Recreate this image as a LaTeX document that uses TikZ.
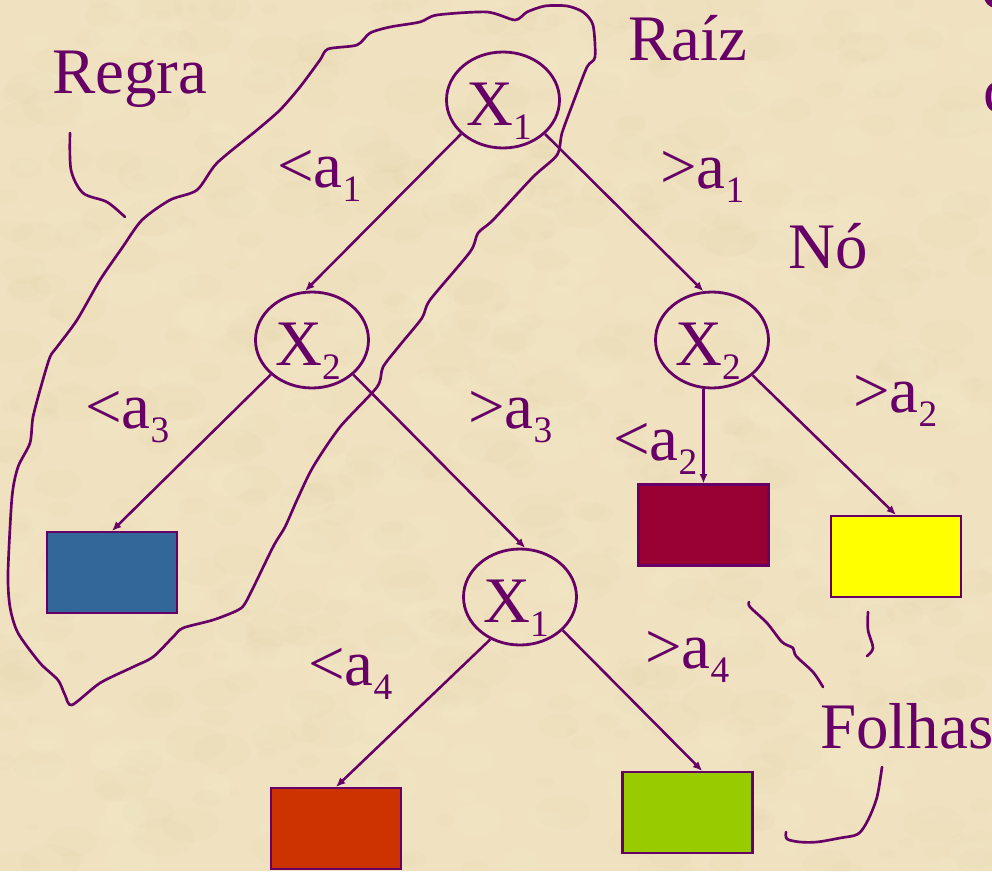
\documentclass[tikz,border=0pt]{standalone}
\usepackage{fontspec}
\setmainfont{Liberation Serif}
\newfontfamily\slidefont{Liberation Serif}
\usetikzlibrary{shapes.geometric,arrows.meta}

\definecolor{ink}{RGB}{102,0,102}
\definecolor{paper}{RGB}{240,226,192}
\definecolor{paperdark}{RGB}{205,175,125}
\definecolor{paperlight}{RGB}{252,242,218}
\definecolor{leafblue}{RGB}{51,102,153}
\definecolor{leafwine}{RGB}{153,0,51}
\definecolor{leafyellow}{RGB}{255,255,0}
\definecolor{leafred}{RGB}{204,51,0}
\definecolor{leafgreen}{RGB}{153,204,0}

% subscript digit set below the baseline
\newcommand\idx[1]{\raisebox{-11pt}{\fontsize{28pt}{30pt}\selectfont #1}}

\tikzset{
  txt/.style={text=ink, inner sep=0pt, anchor=base west,
              font=\slidefont\fontsize{48.7pt}{58pt}\selectfont},
  testnode/.style={ellipse, draw=ink, line width=2.1pt, inner sep=0pt,
                   minimum width=84.75pt, minimum height=72pt},
  testlab/.style={text=ink, inner sep=0pt, anchor=base,
                  font=\slidefont\fontsize{48.7pt}{58pt}\selectfont},
  leaf/.style={rectangle, draw=ink, line width=1.6pt, inner sep=0pt,
               minimum width=97.5pt, minimum height=60.75pt},
  arr/.style={draw=ink, line width=1.9pt,
              -{Latex[length=7pt,width=6pt]}},
  hand/.style={draw=ink, line width=2pt, line cap=round, line join=round},
}

\begin{document}
\begin{tikzpicture}[x=0.75pt, y=-0.75pt]
\useasboundingbox (0,0) rectangle (992,871);
\clip (0,0) rectangle (992,871);

% parchment background with soft mottling
\fill[paper] (0,0) rectangle (992,871);
\pgfmathsetseed{11}
\foreach \i in {1,...,500}{
  \pgfmathsetmacro\px{rnd*992}
  \pgfmathsetmacro\py{rnd*871}
  \pgfmathsetmacro\rr{6+rnd*26}
  \fill[paperdark, opacity=0.035] (\px,\py) ellipse [x radius=\rr, y radius=0.6*\rr];
}
\foreach \i in {1,...,400}{
  \pgfmathsetmacro\px{rnd*992}
  \pgfmathsetmacro\py{rnd*871}
  \pgfmathsetmacro\rr{5+rnd*22}
  \fill[paperlight, opacity=0.07] (\px,\py) ellipse [x radius=\rr, y radius=0.7*\rr];
}

% edge of the neighbouring text block
\fill[ink] (996,-4) circle [radius=12];
\node[txt] (cut) at (983,112) {c};

% test nodes
\node[testnode] (x1a) at (503,100) {};
\node[testnode] (x2a) at (312,340) {};
\node[testnode] (x2b) at (712,340) {};
\node[testnode] (x1c) at (520,597) {};
\node[testlab] at ([shift={(-4,25)}]x1a.center) {X\idx{1}};
\node[testlab] at ([shift={(-4,25)}]x2a.center) {X\idx{2}};
\node[testlab] at ([shift={(-4,25)}]x2b.center) {X\idx{2}};
\node[testlab] at ([shift={(-4,25)}]x1c.center) {X\idx{1}};

% leaves
\node[leaf, fill=leafblue]   (blue) at (112,572.5) {};
\node[leaf, fill=leafwine]   (dred) at (703.5,525) {};
\node[leaf, fill=leafyellow] (yel)  at (896,556.5) {};
\node[leaf, fill=leafred]    (ored) at (336,828.5) {};
\node[leaf, fill=leafgreen]  (grn)  at (687.5,812.5) {};

% branches
\draw[arr] (x1a.219) -- (x2a.98);
\draw[arr] (x1a.321) -- (x2b.100);
\draw[arr] (x2a.220) -- (blue.north);
\draw[arr] (x2a.320) -- (x1c.84);
\draw[arr] (x2b.south -| dred.north) -- (dred.north);
\draw[arr] (x2b.319) -- (yel.north);
\draw[arr] (x1c.235) -- (ored.north);
\draw[arr] (x1c.322) -- ([xshift=11pt]grn.north);

% branch conditions
\node[txt] (c1l) at (277,187) {<a\idx{1}};
\node[txt] (c1r) at (660,188) {>a\idx{1}};
\node[txt] (c3l) at (85,428)  {<a\idx{3}};
\node[txt] (c3r) at (468,428) {>a\idx{3}};
\node[txt] (c2l) at (613,460) {<a\idx{2}};
\node[txt] (c2r) at (853,412) {>a\idx{2}};
\node[txt] (c4l) at (308,685) {<a\idx{4}};
\node[txt] (c4r) at (645,668) {>a\idx{4}};

% annotations
\node[txt] (regra)  at (52,93)   {Regra};
\node[txt] (raiz)   at (628,60)  {Raíz};
\node[txt] (no)     at (788,268) {Nó};
\node[txt] (folhas) at (820,748) {Folhas};

% freehand pointer of "Regra"
\draw[hand] plot[smooth, tension=0.5] coordinates
  {(70,133) (71,170) (83,193) (107,202) (125,217)};

% freehand loop around one rule
\draw[hand] plot[smooth cycle, tension=0.45] coordinates {
  (122,248) (142,220) (170,200) (197,190) (217,163) (257,130) (280,110)
  (300,87) (320,60) (328,49) (357,45) (370,33) (390,27) (420,22) (437,15)
  (487,12) (515,20) (527,12) (545,6) (567,6) (583,12) (593,25) (595,57)
  (587,67) (573,103) (562,133) (557,155) (533,177) (493,220) (478,233)
  (470,252) (430,300) (422,318) (400,345) (383,367) (377,387) (340,427)
  (313,467) (297,500) (285,527) (273,547) (247,600) (238,610) (213,620)
  (183,628) (173,637) (153,657) (133,667) (100,683) (72,705) (65,695)
  (58,680) (40,663) (18,633) (10,607) (8,573) (12,497) (18,467) (30,443)
  (33,417) (42,383) (50,357) (57,347) (77,320) (100,280)};

% freehand pointers of "Folhas"
\draw[hand] plot[smooth, tension=0.5] coordinates
  {(749,602) (750,607) (767,623) (782,642) (793,648) (796,656) (813,672) (823,687)};
\draw[hand] plot[smooth, tension=0.5] coordinates
  {(868,612) (868,630) (873,648) (867,656)};
\draw[hand] plot[smooth, tension=0.5] coordinates
  {(882,767) (877,797) (868,820) (858,834) (840,838) (817,842) (800,842) (787,839) (786,832)};
\end{tikzpicture}
\end{document}
